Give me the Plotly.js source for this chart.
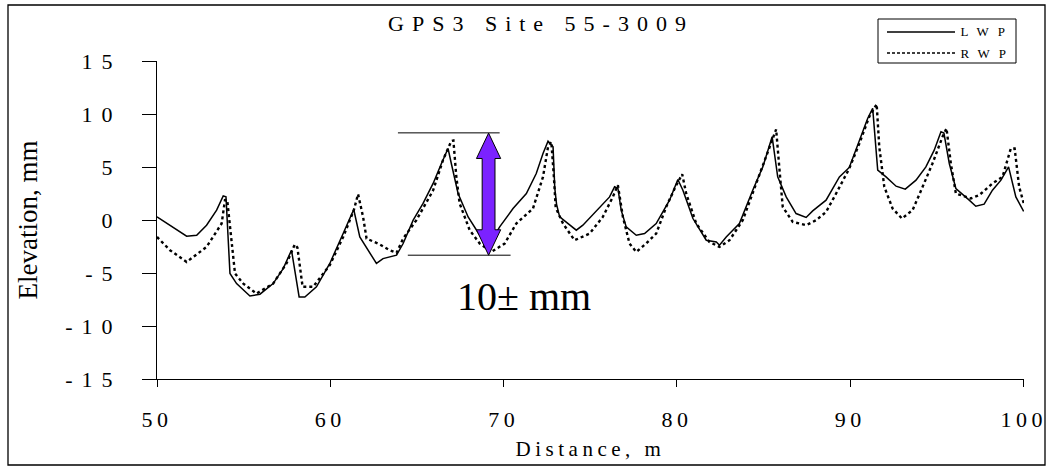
<!DOCTYPE html>
<html><head><meta charset="utf-8">
<script src="https://cdn.plot.ly/plotly-3.0.1.min.js"></script>
<style>
html,body{margin:0;padding:0;background:#fff;}
#chart{width:1049px;height:468px;}
</style>
</head><body><div id="chart"></div>
<script>
// ---- data ----
const lwpX = [50.0,50.75,51.71,52.29,52.86,53.44,53.82,53.98,54.21,54.59,55.36,55.94,56.7,57.28,57.76,58.2,58.53,59.2,59.97,60.74,61.35,61.7,62.28,62.66,63.04,63.82,64.2,64.78,65.35,65.93,66.41,66.79,66.98,67.37,67.95,68.62,69.13,69.77,70.54,71.31,71.88,72.27,72.56,72.85,72.95,73.05,73.23,73.8,74.19,74.57,75.53,76.11,76.4,76.59,76.78,77.07,77.65,78.13,78.8,79.57,80.05,80.34,80.92,81.69,82.27,82.45,82.84,83.6,84.37,84.95,85.49,85.81,86.3,86.87,87.45,87.83,88.6,89.37,89.94,90.52,91.0,91.29,91.58,92.06,92.64,93.17,93.79,94.36,94.84,95.23,95.4,95.71,96.09,96.86,97.24,97.72,98.2,98.69,99.13,99.55,100.0];
const lwpY = [0.3,-0.5,-1.53,-1.44,-0.49,0.93,2.28,2.18,-5.05,-6.0,-7.17,-7.0,-6.0,-4.58,-2.85,-7.26,-7.26,-6.3,-4.1,-1.27,0.99,-1.6,-3.17,-4.1,-3.64,-3.32,-2.22,-0.02,1.56,3.45,5.33,6.75,5.33,2.5,0.29,-1.44,-2.4,-0.65,1.08,2.5,4.39,6.28,7.44,6.9,3.0,1.5,0.3,-0.49,-0.96,-0.49,1.24,2.18,3.13,3.0,0.93,-0.65,-1.44,-1.28,-0.33,1.87,3.82,2.81,0.14,-1.91,-2.07,-2.38,-1.6,-0.33,2.81,5.01,7.85,4.07,2.18,0.61,0.24,0.86,1.87,4.07,4.96,7.54,9.58,10.53,4.7,4.07,3.19,2.91,3.76,5.01,6.59,8.32,8.2,5.33,2.97,1.87,1.3,1.49,2.81,3.76,5.01,2.18,0.8];
const rwpX = [50.0,50.75,51.71,52.86,53.73,53.92,54.05,54.5,54.98,55.74,56.7,57.47,57.95,58.1,58.4,59.01,59.97,60.74,61.35,61.6,61.89,62.09,62.85,63.43,63.82,64.2,64.97,65.93,66.5,66.98,67.1,67.27,67.46,68.04,68.62,69.29,70.06,70.73,71.69,72.27,72.56,72.75,72.9,73.0,73.42,74.09,74.96,75.72,76.3,76.59,76.88,77.26,77.65,78.22,78.8,79.38,79.9,80.3,80.53,81.11,81.87,82.45,83.03,83.8,84.57,85.33,85.72,85.9,86.1,86.68,87.45,88.03,88.6,89.18,89.94,90.52,91.09,91.52,91.67,91.96,92.44,92.98,93.59,94.17,94.74,95.32,95.55,95.8,96.09,96.95,97.43,98.2,98.78,99.26,99.48,99.74,100.0];
const rwpY = [-1.6,-2.85,-3.96,-2.54,-0.33,1.87,1.9,-5.05,-6.0,-6.94,-6.0,-4.1,-2.3,-2.6,-6.3,-6.3,-4.25,-1.6,0.9,2.44,0.29,-1.75,-2.3,-2.85,-3.1,-1.75,0.0,2.8,5.65,7.44,7.5,4.07,1.56,-0.96,-2.22,-3.01,-2.22,-0.33,1.08,4.07,6.9,7.38,4.0,1.2,-0.33,-1.91,-1.28,0.29,2.18,3.29,0.29,-2.22,-3.01,-2.22,-1.28,1.24,3.1,4.32,2.5,-0.33,-2.07,-2.54,-1.91,0.0,3.45,6.9,8.55,5.01,1.24,-0.18,-0.49,-0.02,0.76,2.5,4.86,7.22,9.74,10.93,6.9,3.13,1.08,0.14,0.93,3.13,5.33,7.85,8.64,5.33,2.5,2.03,2.34,3.45,4.07,6.75,6.75,3.13,1.6];
const seriesNames = ["LWP","RWP"];
const xTickVals = [50,60,70,80,90,100];
const xTickText = ["50","60","70","80","90","100"];
const yTickVals = [-15,-10,-5,0,5,10,15];
const yTickText = ["-15","-10","-5","0","5","10","15"];
const chartTitle = "GPS3 Site 55-3009";
const xTitle = "Distance, m";
const yTitle = "Elevation, mm";
const noteText = "10\u00b1 mm";

// ---- layout geometry ----
const W = 1049, H = 468;
const M = {l:157, r:25, t:61, b:89};
const PW = W - M.l - M.r, PH = H - M.t - M.b;
const pxX = px => (px - M.l) / PW;      // pixel -> paper x
const pxY = py => (H - M.b - py) / PH;  // pixel -> paper y
const FONT = "Liberation Serif, Times New Roman, serif";

const traces = [
  {x: lwpX, y: lwpY, name: seriesNames[0], type: "scatter", mode: "lines",
   line: {color: "#000", width: 1.5}, showlegend: false},
  {x: rwpX, y: rwpY, name: seriesNames[1], type: "scatter", mode: "lines",
   line: {color: "#000", width: 2.4, dash: "3px,3px"}, showlegend: false}
];

// annotation geometry (data units)
const arrow = {x: 69.13, top: 8.2, bot: -3.32, hw: 0.70, sw: 0.37, hl: 2.4};
const a = arrow;
const arrowPath = `M ${a.x},${a.top} L ${a.x+a.hw},${a.top-a.hl} L ${a.x+a.sw},${a.top-a.hl} L ${a.x+a.sw},${a.bot+a.hl} L ${a.x+a.hw},${a.bot+a.hl} L ${a.x},${a.bot} L ${a.x-a.hw},${a.bot+a.hl} L ${a.x-a.sw},${a.bot+a.hl} L ${a.x-a.sw},${a.top-a.hl} L ${a.x-a.hw},${a.top-a.hl} Z`;

const shapes = [
  // outer frame
  {type:"rect", xref:"paper", yref:"paper", x0:pxX(8), x1:pxX(1045), y0:pxY(465), y1:pxY(5),
   line:{color:"#000", width:1.3}, fillcolor:"rgba(0,0,0,0)"},
  // reference lines
  {type:"line", xref:"x", yref:"y", x0:63.9, x1:69.77, y0:8.22, y1:8.22, line:{color:"#000", width:1}},
  {type:"line", xref:"x", yref:"y", x0:64.47, x1:70.4, y0:-3.32, y1:-3.32, line:{color:"#000", width:1}},
  // double arrow
  {type:"path", xref:"x", yref:"y", path: arrowPath, fillcolor:"#7B22FF", line:{color:"#000", width:1}},
  // legend box
  {type:"rect", xref:"paper", yref:"paper", x0:pxX(878), x1:pxX(1016), y0:pxY(63), y1:pxY(19),
   line:{color:"#000", width:1}, fillcolor:"#fff"},
  {type:"line", xref:"paper", yref:"paper", x0:pxX(887), x1:pxX(955), y0:pxY(32), y1:pxY(32),
   line:{color:"#000", width:1.5}},
  {type:"line", xref:"paper", yref:"paper", x0:pxX(887), x1:pxX(955), y0:pxY(53), y1:pxY(53),
   line:{color:"#000", width:1.5, dash:"3px,2px"}}
];

const annotations = [
  {xref:"paper", yref:"paper", x:pxX(972), y:pxY(32), text:seriesNames[0], showarrow:false,
   xanchor:"left", yanchor:"middle", font:{family:FONT, size:13, color:"#000"}},
  {xref:"paper", yref:"paper", x:pxX(972), y:pxY(53), text:seriesNames[1], showarrow:false,
   xanchor:"left", yanchor:"middle", font:{family:FONT, size:13, color:"#000"}},
  {xref:"x", yref:"y", x:67.19, y:-7.26, text:noteText, showarrow:false,
   xanchor:"left", yanchor:"middle", font:{family:FONT, size:40, color:"#000"}}
];

const layout = {
  width: W, height: H,
  margin: M,
  paper_bgcolor: "#fff", plot_bgcolor: "#fff",
  font: {family: FONT, color: "#000", size: 22},
  showlegend: false,
  title: {text: chartTitle, font:{family:FONT, size:22, color:"#000"},
          xref:"paper", x: pxX(541), xanchor:"center", yref:"container", y: 1 - 23/H, yanchor:"middle"},
  xaxis: {range:[50,100.02], tickvals:xTickVals, ticktext:xTickText, showgrid:false, zeroline:false,
          showline:true, linecolor:"#000", linewidth:1, ticks:"outside", ticklen:7, tickcolor:"#000",
          ticklabelstandoff: 14, ticklabelshift: 1.5, ticklabeloverflow:"allow",
          tickfont:{family:FONT, size:22, color:"#000"},
          title:{text:xTitle, font:{family:FONT, size:21, color:"#000"}, standoff: 9}, automargin:false},
  yaxis: {range:[-15,15], tickvals:yTickVals, ticktext:yTickText, showgrid:false, zeroline:false,
          showline:true, linecolor:"#000", linewidth:1, ticks:"outside", ticklen:14, tickcolor:"#000",
          ticklabelstandoff: 16,
          tickfont:{family:FONT, size:22, color:"#000"},
          title:{text:yTitle, font:{family:FONT, size:27, color:"#000"}, standoff: 19}, automargin:false},
  shapes: shapes,
  annotations: annotations
};

const css = document.createElement("style");
css.textContent = `
  .gtitle { letter-spacing: 8px; }
  .ytick text { letter-spacing: 9px; }
  .xtick text { letter-spacing: 4.5px; }
  .xtitle { letter-spacing: 4.5px; }
  g.annotation[data-index="0"] text, g.annotation[data-index="1"] text { letter-spacing: 9px; }
`;
document.head.appendChild(css);

Plotly.newPlot("chart", traces, layout, {displayModeBar:false, staticPlot:true});
</script>
</body></html>
